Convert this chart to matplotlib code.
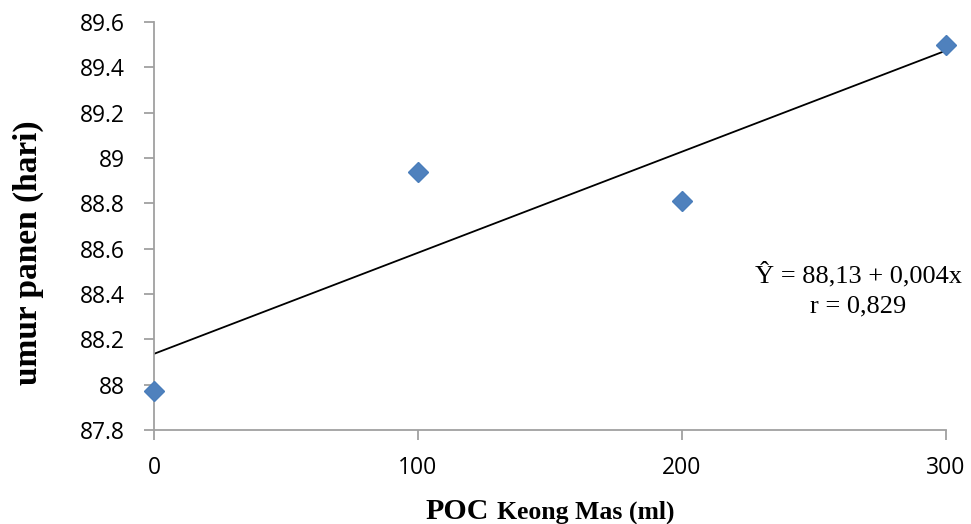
import numpy as np
import matplotlib
matplotlib.use("Agg")
import matplotlib.pyplot as plt

# Data
x_vals = [0, 100, 200, 300]
y_vals = [87.97, 88.94, 88.81, 89.50]
x_ticks = [0, 100, 200, 300]
y_ticks = [87.8, 88.0, 88.2, 88.4, 88.6, 88.8, 89.0, 89.2, 89.4, 89.6]
y_tick_labels = ["87.8", "88", "88.2", "88.4", "88.6", "88.8", "89", "89.2", "89.4", "89.6"]
equation = "\u0176 = 88,13 + 0,004x"
r_text = "r = 0,829"

fig = plt.figure(figsize=(9.71, 5.24), dpi=100)
ax = fig.add_axes([0.1586, 0.1794, 0.8157, 0.7786])

slope, intercept = np.polyfit(x_vals, y_vals, 1)
xl = np.array([0, 300])
ax.plot(xl, intercept + slope * xl, color="black", lw=1.3, zorder=2)
ax.plot(x_vals, y_vals, linestyle="none", marker="D", markersize=10,
        color="#4F81BD", markeredgecolor="#4A7EBB", zorder=3, clip_on=False)

ax.set_xlim(0, 300)
ax.set_ylim(87.8, 89.6)
ax.set_xticks(x_ticks)
ax.set_yticks(y_ticks)
ax.set_yticklabels(y_tick_labels)

for s in ["top", "right"]:
    ax.spines[s].set_visible(False)
for s in ["left", "bottom"]:
    ax.spines[s].set_color("#A0A0A0")
    ax.spines[s].set_linewidth(1.3)
ax.tick_params(axis="both", direction="out", length=7, width=1.3, color="#A0A0A0",
               labelsize=16.5, labelcolor="black")
for lab in ax.get_xticklabels() + ax.get_yticklabels():
    lab.set_family("Open Sans")
ax.tick_params(axis="x", pad=12)
ax.tick_params(axis="y", pad=14)

# x label with mixed sizes
fig.text(425 / 971, 5 / 524, "POC", fontsize=21.5, fontweight="bold", family="Liberation Serif",
         ha="left", va="baseline")
fig.text(497 / 971, 5 / 524, "Keong Mas (ml)", fontsize=18.5, fontweight="bold", family="Liberation Serif",
         ha="left", va="baseline")

# y label
fig.text(28 / 971, 1 - 253 / 524, "umur panen (hari)", fontsize=24, fontweight="bold",
         family="Liberation Serif", rotation=90, ha="center", va="center")

fig.text(858 / 971, 1 - 275 / 524, equation, fontsize=19, family="Liberation Serif",
         ha="center", va="center")
fig.text(858 / 971, 1 - 306 / 524, r_text, fontsize=19, family="Liberation Serif",
         ha="center", va="center")

fig.savefig("out.png", dpi=100)
